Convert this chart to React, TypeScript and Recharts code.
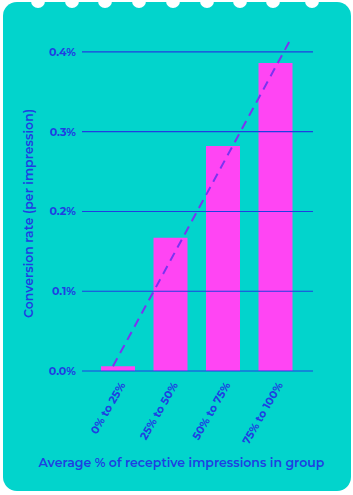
import React from "react";
import {
  ComposedChart, Bar, Line, XAxis, YAxis, ReferenceLine,
} from "recharts";

const groups = ["0% to 25%", "25% to 50%", "50% to 75%", "75% to 100%"];
const conversion = [0.006, 0.167, 0.282, 0.386];
const yTicks = [0, 0.1, 0.2, 0.3, 0.4];
// trend line ends, read as (category position, value)
const trendPos = [-0.1, 3.3];
const trendVal = [0.006, 0.418];

const barData = groups.map((g, i) => ({ group: g, rate: conversion[i] }));
const trendData = trendPos.map((t, i) => ({ t, v: trendVal[i] }));

const TEAL = "#02d4cc";
const PINK = "#ff45f3";
const BLUE = "#1f3fe2";
const PURPLE = "#7b33f0";
const FONT = "Montserrat, 'Open Sans', sans-serif";

const notches = [38, 72, 105, 139, 173, 207, 240, 273, 312];

function XTick({ x, y, payload }: any) {
  return (
    <text
      x={x + 4}
      y={y + 4}
      transform={`rotate(-60 ${x + 4} ${y + 4})`}
      textAnchor="end"
      dominantBaseline="central"
      fill={BLUE}
      fontSize={11}
      fontWeight={700}
      fontFamily={FONT}
    >
      {payload.value}
    </text>
  );
}

function YTitle({ viewBox }: any) {
  const x = viewBox.x - 2;
  const y = viewBox.y + viewBox.height / 2 + 10;
  return (
    <text
      x={x}
      y={y}
      transform={`rotate(-90 ${x} ${y})`}
      textAnchor="middle"
      dominantBaseline="central"
      fill={BLUE}
      fontSize={12.5}
      fontWeight={600}
      fontFamily={FONT}
    >
      Conversion rate (per impression)
    </text>
  );
}

export default function App() {
  return (
    <div style={{ position: "absolute", left: 0, top: 0, width: 353, height: 495, background: "#fff", overflow: "hidden" }}>
      <div
        style={{
          position: "absolute", left: 3, top: 2, width: 348, height: 489,
          background: TEAL, borderRadius: 14,
        }}
      />
      {notches.map((cx) => (
        <div
          key={cx}
          style={{
            position: "absolute", left: cx - 7, top: -6, width: 14, height: 14,
            borderRadius: "50%", background: "#fff",
          }}
        />
      ))}
      <div style={{ position: "absolute", left: 0, top: 0 }}>
        <ComposedChart
          width={353}
          height={495}
          data={barData}
          margin={{ top: 36, right: 40, left: 30, bottom: 0 }}
        >
          <XAxis
            dataKey="group"
            xAxisId="cat"
            axisLine={false}
            tickLine={false}
            interval={0}
            padding={{ left: 10, right: 11 }}
            tick={<XTick />}
            height={124}
            label={{
              value: "Average % of receptive impressions in group",
              position: "insideBottom",
              offset: 28,
              dx: -16,
              fill: BLUE,
              fontSize: 12.5,
              fontWeight: 600,
              fontFamily: FONT,
            }}
          />
          <XAxis
            xAxisId="trend"
            dataKey="t"
            type="number"
            domain={[-0.5 - 10 / 52.7, 3.5 + 11 / 52.7]}
            hide
          />
          <YAxis
            domain={[0, 0.42]}
            ticks={yTicks}
            axisLine={false}
            tickLine={false}
            width={52}
            tickMargin={0}
            tickFormatter={(v: number) => `${v.toFixed(1)}%`}
            tick={{ fill: BLUE, fontSize: 11, fontWeight: 700, fontFamily: FONT }}
            label={<YTitle />}
          />
          {yTicks.map((v) => (
            <ReferenceLine key={v} y={v} xAxisId="cat" stroke={BLUE} strokeWidth={1.2} />
          ))}
          <Line
            xAxisId="trend"
            data={trendData}
            dataKey="v"
            stroke={PURPLE}
            strokeWidth={2}
            strokeDasharray="9 6"
            dot={false}
            activeDot={false}
            isAnimationActive={false}
          />
          <Bar xAxisId="cat" dataKey="rate" fill={PINK} barSize={34} isAnimationActive={false} />
        </ComposedChart>
      </div>
    </div>
  );
}
